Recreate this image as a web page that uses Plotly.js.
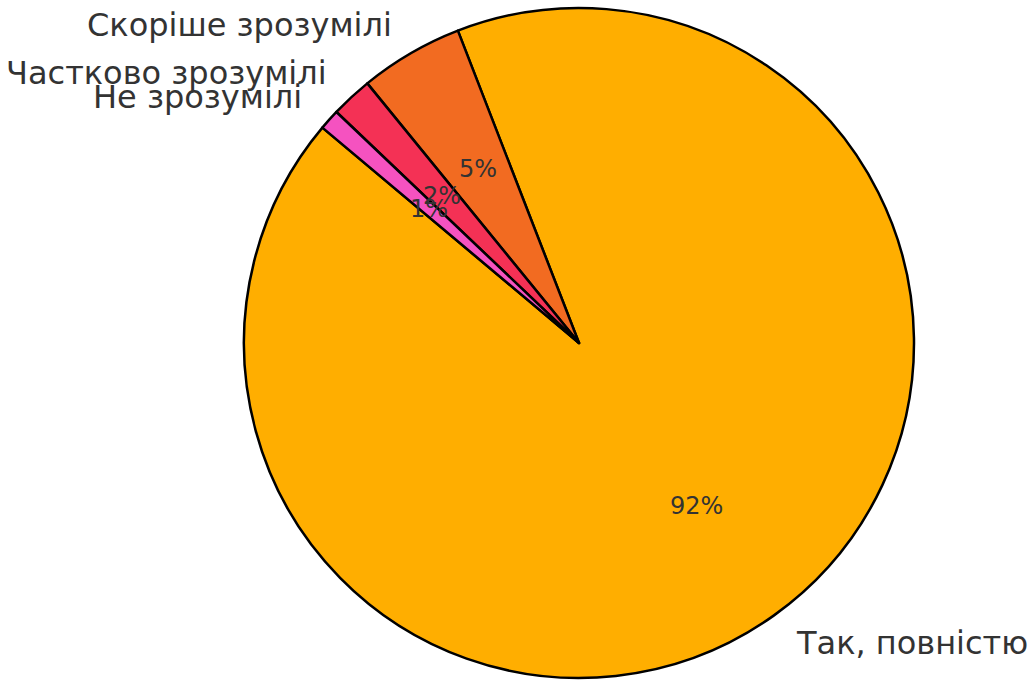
<!DOCTYPE html>
<html>
<head>
<meta charset="utf-8">
<script src="https://cdn.plot.ly/plotly-3.0.1.min.js"></script>
<style>html,body{margin:0;padding:0;background:#fff;}#chart{width:1030px;height:683px;}</style>
</head>
<body>
<div id="chart"></div>
<script>
const labels = ["Так, повністю", "Скоріше зрозумілі", "Частково зрозумілі", "Не зрозумілі"];
const values = [92, 5, 2, 1];
const colors = ["#FFAE00", "#F26B21", "#F43155", "#F552C0"];

const W = 1030, H = 683;
const cx = 579, cy = 343, R = 335;   // pie centre / radius in px
const startAngle = 140;              // degrees, counterclockwise from +x

const total = values.reduce((a, b) => a + b, 0);
const annotations = [];
let acc = startAngle;
values.forEach((v, i) => {
  const span = v / total * 360;
  const mid = (acc + span / 2) * Math.PI / 180;
  acc += span;
  const c = Math.cos(mid), s = Math.sin(mid);
  annotations.push({
    xref: 'paper', yref: 'paper',
    x: (cx + 1.1 * R * c) / W, y: (H - cy + 1.1 * R * s) / H,
    text: labels[i], showarrow: false,
    xanchor: c > 0 ? 'left' : 'right', yanchor: 'middle',
    font: {family: 'DejaVu Sans', size: 32, color: '#333333'}
  });
  annotations.push({
    xref: 'paper', yref: 'paper',
    x: (cx + 0.6 * R * c) / W, y: (H - cy + 0.6 * R * s) / H,
    text: Math.round(v / total * 100) + '%', showarrow: false,
    xanchor: 'center', yanchor: 'middle',
    font: {family: 'DejaVu Sans', size: 24, color: '#333333'}
  });
});

// Plotly (counterclockwise) uses rotation as the clockwise edge of the first slice
let rot = 90 - (startAngle + values[0] / total * 360);
while (rot < -360) rot += 360;
while (rot > 360) rot -= 360;

const trace = {
  type: 'pie',
  labels: labels,
  values: values,
  sort: false,
  direction: 'counterclockwise',
  rotation: rot,
  textinfo: 'none',
  hoverinfo: 'label+percent',
  marker: {colors: colors, line: {color: '#000000', width: 2.5}},
  domain: {x: [(cx - R) / W, (cx + R) / W], y: [(H - cy - R) / H, (H - cy + R) / H]}
};

Plotly.newPlot('chart', [trace], {
  width: W, height: H,
  margin: {l: 0, r: 0, t: 0, b: 0},
  showlegend: false,
  paper_bgcolor: '#ffffff',
  annotations: annotations
}, {displayModeBar: false, staticPlot: true});
</script>
</body>
</html>
